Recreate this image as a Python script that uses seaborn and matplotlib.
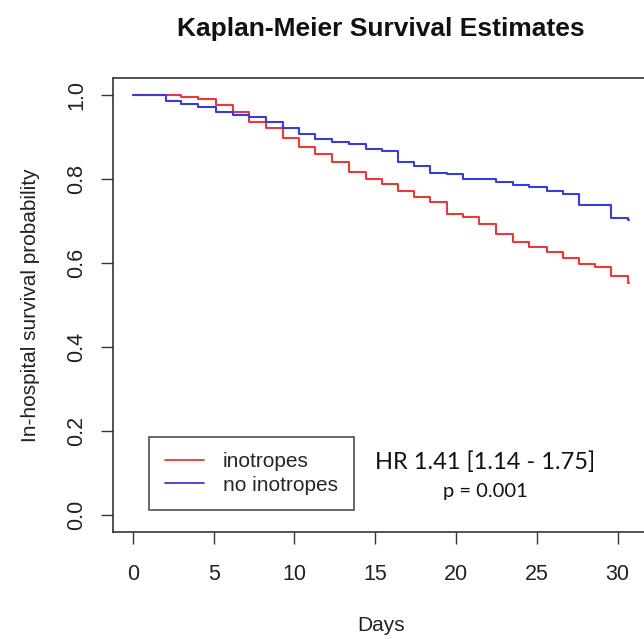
import numpy as np
import pandas as pd
import seaborn as sns
import matplotlib
matplotlib.use('Agg')
import matplotlib.pyplot as plt

# step times (days) and survival after each step
red_days = [0, 3.0, 4.05, 5.15, 6.2, 7.2, 8.26, 9.3, 10.3, 11.3, 12.35, 13.4, 14.4,
            15.4, 16.4, 17.4, 18.4, 19.45, 20.4, 21.4, 22.5, 23.5, 24.5, 25.6,
            26.6, 27.6, 28.6, 29.6, 30.65, 30.7]
red_surv = [1.0, 0.995, 0.99, 0.976, 0.96, 0.936, 0.92, 0.897, 0.876, 0.858, 0.839,
            0.817, 0.80, 0.788, 0.771, 0.756, 0.744, 0.716, 0.71, 0.692, 0.669,
            0.65, 0.638, 0.626, 0.612, 0.597, 0.59, 0.569, 0.553, 0.553]

blue_days = [0, 1.05, 2.05, 3.0, 4.05, 5.15, 6.2, 7.2, 8.26, 9.3, 10.3, 11.3, 12.35,
             13.4, 14.4, 15.4, 16.4, 17.4, 18.4, 19.45, 20.4, 22.5, 23.5, 24.5,
             25.6, 26.6, 27.6, 29.6, 30.65, 30.7]
blue_surv = [1.0, 0.999, 0.985, 0.979, 0.972, 0.96, 0.953, 0.948, 0.936, 0.92, 0.906,
             0.894, 0.888, 0.884, 0.87, 0.866, 0.841, 0.831, 0.815, 0.811, 0.80,
             0.793, 0.786, 0.78, 0.77, 0.764, 0.738, 0.708, 0.703, 0.703]

groups = ['inotropes', 'no inotropes']
colors = ['#e63b3b', '#3b3bd6']

df = pd.concat([
    pd.DataFrame({'Days': red_days, 'Surv': red_surv, 'Group': groups[0]}),
    pd.DataFrame({'Days': blue_days, 'Surv': blue_surv, 'Group': groups[1]}),
])

sns.set_style('ticks')
plt.rcParams['font.family'] = ['Liberation Sans', 'DejaVu Sans']

fig = plt.figure(figsize=(6.44, 6.39), dpi=100)
ax = fig.add_axes([0.1755, 0.1675, 0.832, 0.7105])

sns.lineplot(data=df, x='Days', y='Surv', hue='Group', palette=colors,
             estimator=None, sort=False, drawstyle='steps-post', linewidth=1.5,
             ax=ax, legend=False)

ax.set_xlim(-1.23, 31.93)
ax.set_ylim(-0.04, 1.04)
ax.set_xticks([0, 5, 10, 15, 20, 25, 30])
ax.set_yticks([0.0, 0.2, 0.4, 0.6, 0.8, 1.0])
ax.set_yticklabels(['0.0', '0.2', '0.4', '0.6', '0.8', '1.0'], rotation=90, va='center')
ax.tick_params(axis='both', length=8.6, width=1, labelsize=15.5, color='#333333',
               labelcolor='#222222')
ax.tick_params(axis='x', pad=14.5)
ax.tick_params(axis='y', pad=10)
for s in ax.spines.values():
    s.set_color('#333333')
    s.set_linewidth(1.2)

ax.set_xlabel('Days', fontsize=15, labelpad=22, color='#222222')
ax.set_ylabel('In-hospital survival probability', fontsize=15, labelpad=19, color='#222222')
fig.text(0.592, 0.955, 'Kaplan-Meier Survival Estimates', ha='center', va='center',
         fontsize=19, fontweight='bold', color='#111111')

handles = [plt.Line2D([], [], color=c, lw=1.3) for c in colors]
leg = ax.legend(handles, groups, loc='lower left', bbox_to_anchor=(0.067, 0.048),
                fontsize=15, frameon=True, fancybox=False, handlelength=1.9,
                borderpad=0.75, labelspacing=0.2, handletextpad=0.9, borderaxespad=0)
leg.get_frame().set_edgecolor('#222222')
leg.get_frame().set_linewidth(1.2)

ax.text(21.8, 0.126, 'HR 1.41 [1.14 - 1.75]', ha='center', va='center', fontsize=17,
        family=['Lato', 'DejaVu Sans'], color='#111111')
ax.text(21.8, 0.057, 'p = 0.001', ha='center', va='center', fontsize=14.5,
        family=['Lato', 'DejaVu Sans'], color='#111111')

fig.savefig('out.png', dpi=100)
